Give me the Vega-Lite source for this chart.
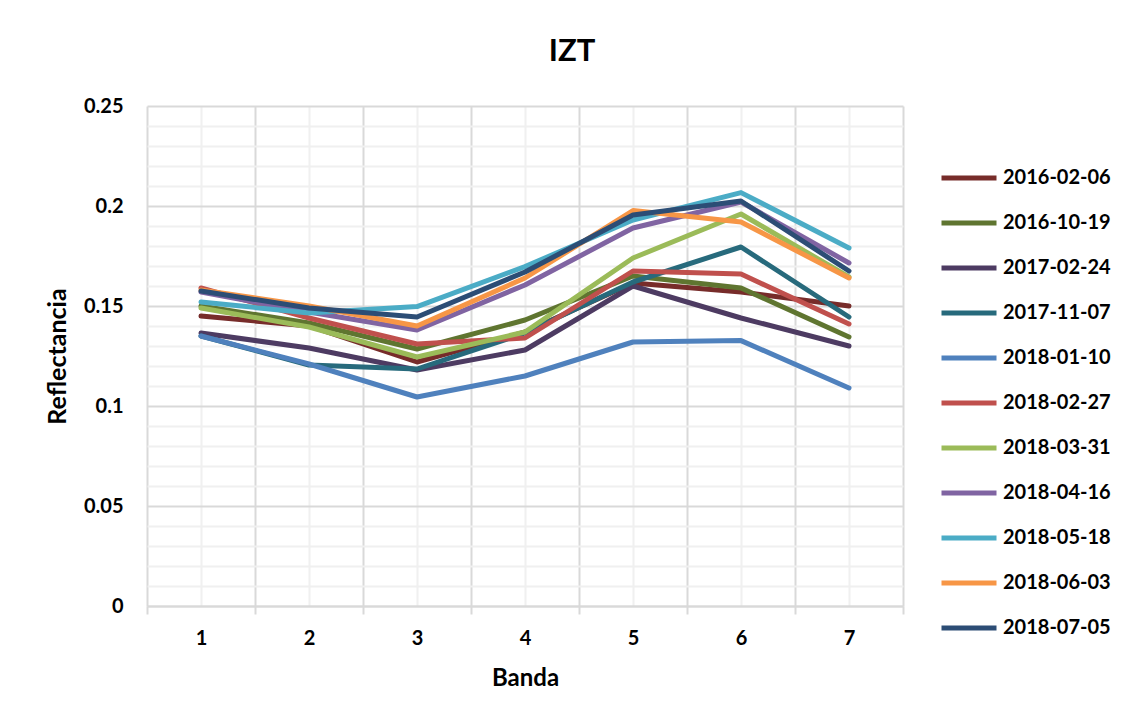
{
  "$schema": "https://vega.github.io/schema/vega-lite/v6.json",
  "width": 756,
  "height": 500,
  "autosize": "none",
  "padding": {"left": 147, "top": 106, "right": 230, "bottom": 115},
  "background": "white",
  "config": {
    "font": "Lato",
    "view": {"stroke": null}
  },
  "title": {
    "text": "IZT",
    "fontSize": 31,
    "fontWeight": "bold",
    "font": "Lato",
    "color": "#000000",
    "anchor": "middle",
    "dx": 47,
    "offset": 28
  },
  "data": {
    "values": [
      {"fecha": "2016-02-06", "banda": 1, "refl": 0.145},
      {"fecha": "2016-02-06", "banda": 2, "refl": 0.140},
      {"fecha": "2016-02-06", "banda": 3, "refl": 0.122},
      {"fecha": "2016-02-06", "banda": 4, "refl": 0.137},
      {"fecha": "2016-02-06", "banda": 5, "refl": 0.1615},
      {"fecha": "2016-02-06", "banda": 6, "refl": 0.157},
      {"fecha": "2016-02-06", "banda": 7, "refl": 0.150},
      {"fecha": "2016-10-19", "banda": 1, "refl": 0.150},
      {"fecha": "2016-10-19", "banda": 2, "refl": 0.1415},
      {"fecha": "2016-10-19", "banda": 3, "refl": 0.1285},
      {"fecha": "2016-10-19", "banda": 4, "refl": 0.143},
      {"fecha": "2016-10-19", "banda": 5, "refl": 0.165},
      {"fecha": "2016-10-19", "banda": 6, "refl": 0.159},
      {"fecha": "2016-10-19", "banda": 7, "refl": 0.1345},
      {"fecha": "2017-02-24", "banda": 1, "refl": 0.1365},
      {"fecha": "2017-02-24", "banda": 2, "refl": 0.129},
      {"fecha": "2017-02-24", "banda": 3, "refl": 0.118},
      {"fecha": "2017-02-24", "banda": 4, "refl": 0.128},
      {"fecha": "2017-02-24", "banda": 5, "refl": 0.160},
      {"fecha": "2017-02-24", "banda": 6, "refl": 0.144},
      {"fecha": "2017-02-24", "banda": 7, "refl": 0.130},
      {"fecha": "2017-11-07", "banda": 1, "refl": 0.135},
      {"fecha": "2017-11-07", "banda": 2, "refl": 0.1205},
      {"fecha": "2017-11-07", "banda": 3, "refl": 0.1185},
      {"fecha": "2017-11-07", "banda": 4, "refl": 0.1365},
      {"fecha": "2017-11-07", "banda": 5, "refl": 0.162},
      {"fecha": "2017-11-07", "banda": 6, "refl": 0.1795},
      {"fecha": "2017-11-07", "banda": 7, "refl": 0.1445},
      {"fecha": "2018-01-10", "banda": 1, "refl": 0.135},
      {"fecha": "2018-01-10", "banda": 2, "refl": 0.121},
      {"fecha": "2018-01-10", "banda": 3, "refl": 0.1045},
      {"fecha": "2018-01-10", "banda": 4, "refl": 0.115},
      {"fecha": "2018-01-10", "banda": 5, "refl": 0.132},
      {"fecha": "2018-01-10", "banda": 6, "refl": 0.1327},
      {"fecha": "2018-01-10", "banda": 7, "refl": 0.109},
      {"fecha": "2018-02-27", "banda": 1, "refl": 0.159},
      {"fecha": "2018-02-27", "banda": 2, "refl": 0.144},
      {"fecha": "2018-02-27", "banda": 3, "refl": 0.131},
      {"fecha": "2018-02-27", "banda": 4, "refl": 0.134},
      {"fecha": "2018-02-27", "banda": 5, "refl": 0.1675},
      {"fecha": "2018-02-27", "banda": 6, "refl": 0.166},
      {"fecha": "2018-02-27", "banda": 7, "refl": 0.141},
      {"fecha": "2018-03-31", "banda": 1, "refl": 0.149},
      {"fecha": "2018-03-31", "banda": 2, "refl": 0.1395},
      {"fecha": "2018-03-31", "banda": 3, "refl": 0.1245},
      {"fecha": "2018-03-31", "banda": 4, "refl": 0.137},
      {"fecha": "2018-03-31", "banda": 5, "refl": 0.174},
      {"fecha": "2018-03-31", "banda": 6, "refl": 0.196},
      {"fecha": "2018-03-31", "banda": 7, "refl": 0.1645},
      {"fecha": "2018-04-16", "banda": 1, "refl": 0.157},
      {"fecha": "2018-04-16", "banda": 2, "refl": 0.147},
      {"fecha": "2018-04-16", "banda": 3, "refl": 0.138},
      {"fecha": "2018-04-16", "banda": 4, "refl": 0.1605},
      {"fecha": "2018-04-16", "banda": 5, "refl": 0.189},
      {"fecha": "2018-04-16", "banda": 6, "refl": 0.202},
      {"fecha": "2018-04-16", "banda": 7, "refl": 0.1715},
      {"fecha": "2018-05-18", "banda": 1, "refl": 0.152},
      {"fecha": "2018-05-18", "banda": 2, "refl": 0.1465},
      {"fecha": "2018-05-18", "banda": 3, "refl": 0.1497},
      {"fecha": "2018-05-18", "banda": 4, "refl": 0.1697},
      {"fecha": "2018-05-18", "banda": 5, "refl": 0.193},
      {"fecha": "2018-05-18", "banda": 6, "refl": 0.2067},
      {"fecha": "2018-05-18", "banda": 7, "refl": 0.179},
      {"fecha": "2018-06-03", "banda": 1, "refl": 0.158},
      {"fecha": "2018-06-03", "banda": 2, "refl": 0.150},
      {"fecha": "2018-06-03", "banda": 3, "refl": 0.140},
      {"fecha": "2018-06-03", "banda": 4, "refl": 0.164},
      {"fecha": "2018-06-03", "banda": 5, "refl": 0.1977},
      {"fecha": "2018-06-03", "banda": 6, "refl": 0.192},
      {"fecha": "2018-06-03", "banda": 7, "refl": 0.164},
      {"fecha": "2018-07-05", "banda": 1, "refl": 0.1575},
      {"fecha": "2018-07-05", "banda": 2, "refl": 0.149},
      {"fecha": "2018-07-05", "banda": 3, "refl": 0.1445},
      {"fecha": "2018-07-05", "banda": 4, "refl": 0.167},
      {"fecha": "2018-07-05", "banda": 5, "refl": 0.1955},
      {"fecha": "2018-07-05", "banda": 6, "refl": 0.2025},
      {"fecha": "2018-07-05", "banda": 7, "refl": 0.1675}
    ]
  },
  "mark": {"type": "line", "strokeWidth": 5, "strokeJoin": "round", "strokeCap": "round"},
  "encoding": {
    "x": {
      "field": "banda",
      "type": "quantitative",
      "scale": {"domain": [0.5, 7.5], "nice": false, "zero": false},
      "axis": {
        "title": "Banda",
        "titleFont": "Lato",
        "titleFontSize": 24,
        "titleFontWeight": "bold",
        "titleColor": "#000000",
        "titlePadding": 18,
        "values": [0.5, 1, 1.5, 2, 2.5, 3, 3.5, 4, 4.5, 5, 5.5, 6, 6.5, 7, 7.5],
        "labelExpr": "datum.value % 1 == 0 ? toString(datum.value) : ''",
        "labelFont": "Lato",
        "labelFontSize": 20,
        "labelFontWeight": "bold",
        "labelColor": "#000000",
        "labelPadding": 14,
        "labelFlush": false,
        "labelOverlap": false,
        "domain": true,
        "domainColor": "#d9d9d9",
        "domainWidth": 2,
        "ticks": true,
        "tickSize": 8,
        "tickWidth": 2,
        "tickColor": {"condition": {"test": "datum.value % 1 == 0", "value": "transparent"}, "value": "#d9d9d9"},
        "grid": true,
        "gridWidth": 2,
        "gridColor": {"condition": {"test": "datum.value % 1 == 0", "value": "#f0f0f0"}, "value": "#d9d9d9"}
      }
    },
    "y": {
      "field": "refl",
      "type": "quantitative",
      "scale": {"domain": [0, 0.25], "nice": false},
      "axis": {
        "title": "Reflectancia",
        "titleFont": "Lato",
        "titleFontSize": 25,
        "titleFontWeight": "bold",
        "titleColor": "#000000",
        "titlePadding": 13,
        "values": [0, 0.01, 0.02, 0.03, 0.04, 0.05, 0.06, 0.07, 0.08, 0.09, 0.1, 0.11, 0.12, 0.13, 0.14, 0.15, 0.16, 0.17, 0.18, 0.19, 0.2, 0.21, 0.22, 0.23, 0.24, 0.25],
        "labelExpr": "round(datum.value * 100) % 5 == 0 ? toString(round(datum.value * 100) / 100) : ''",
        "labelFont": "Lato",
        "labelFontSize": 20,
        "labelFontWeight": "bold",
        "labelColor": "#000000",
        "labelPadding": 24,
        "labelOverlap": false,
        "labelFlush": false,
        "domain": false,
        "ticks": false,
        "grid": true,
        "gridWidth": 2,
        "gridColor": {"condition": {"test": "round(datum.value * 100) % 5 == 0", "value": "#d9d9d9"}, "value": "#f0f0f0"}
      }
    },
    "color": {
      "field": "fecha",
      "type": "nominal",
      "scale": {
        "domain": ["2016-02-06", "2016-10-19", "2017-02-24", "2017-11-07", "2018-01-10", "2018-02-27", "2018-03-31", "2018-04-16", "2018-05-18", "2018-06-03", "2018-07-05"],
        "range": ["#772C2A", "#5F7530", "#4D3B62", "#276A7C", "#4F81BD", "#C0504D", "#9BBB59", "#8064A2", "#4BACC6", "#F79646", "#2C4D75"]
      },
      "legend": {
        "title": null,
        "orient": "none",
        "legendX": 792,
        "legendY": 42,
        "symbolType": "stroke",
        "symbolSize": 3025,
        "symbolStrokeWidth": 5,
        "labelFont": "Lato",
        "labelFontSize": 20,
        "labelFontWeight": "bold",
        "labelColor": "#000000",
        "labelOffset": 4,
        "rowPadding": 5
      }
    }
  }
}
